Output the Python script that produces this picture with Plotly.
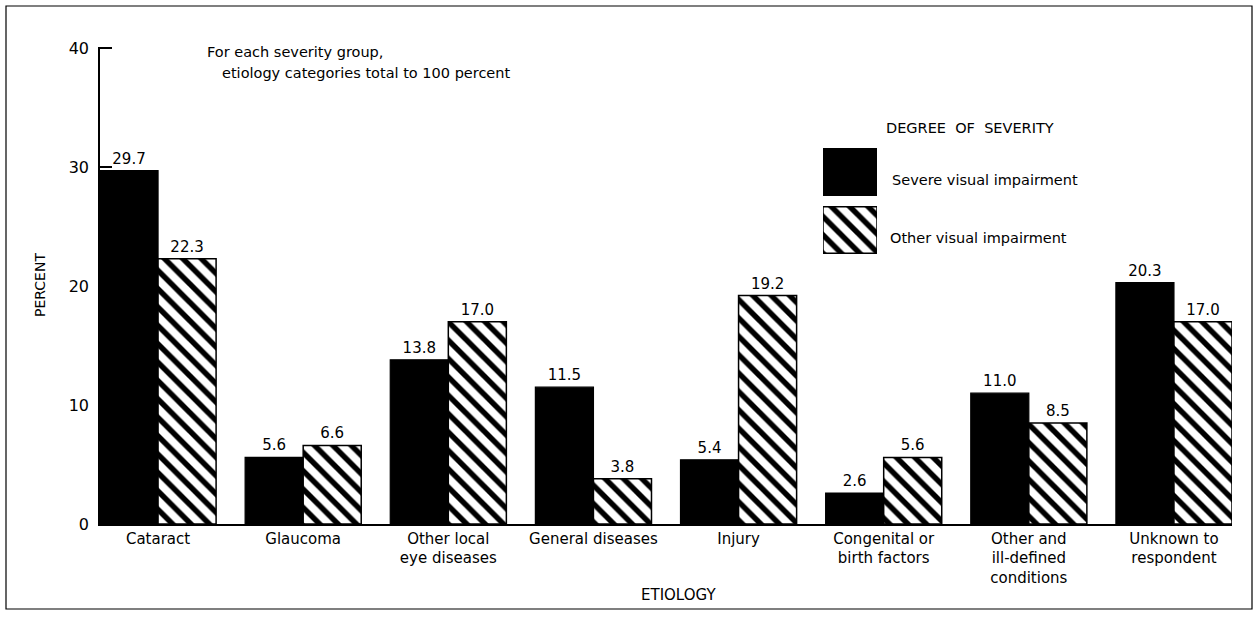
import plotly.graph_objects as go

categories = ["Cataract", "Glaucoma", "Other local<br>eye diseases", "General diseases",
              "Injury", "Congenital or<br>birth factors", "Other and<br>ill-defined<br>conditions",
              "Unknown to<br>respondent"]
severe = [29.7, 5.6, 13.8, 11.5, 5.4, 2.6, 11.0, 20.3]
other = [22.3, 6.6, 17.0, 3.8, 19.2, 5.6, 8.5, 17.0]
series_names = ["Severe visual impairment", "Other visual impairment"]
y_ticks = [0, 10, 20, 30, 40]

FONT = "DejaVu Sans"
W, H = 1260, 618
L, R, T, B = 100, 28, 47, 94
pw, ph = W - L - R, H - T - B

def px(x):
    return (x - L) / pw

def py(y):
    return (H - B - y) / ph

hatch = dict(shape="\\", fgcolor="black", bgcolor="white", fgopacity=1, size=13, solidity=0.42)

xs = list(range(len(categories)))
fig = go.Figure()
fig.add_trace(go.Bar(
    x=xs, y=severe, name=series_names[0],
    marker=dict(color="black", line=dict(color="black", width=1.2)),
    texttemplate="%{y:.1f}", textposition="outside", cliponaxis=False,
    textfont=dict(family=FONT, size=15, color="black"), showlegend=False))
fig.add_trace(go.Bar(
    x=xs, y=other, name=series_names[1],
    marker=dict(color="white", line=dict(color="black", width=1.5), pattern=hatch),
    texttemplate="%{y:.1f}", textposition="outside", cliponaxis=False,
    textfont=dict(family=FONT, size=15, color="black"), showlegend=False))

# legend swatches drawn as bars on an overlay axis
fig.add_trace(go.Bar(
    y=[series_names[0]], x=[1], orientation="h",
    xaxis="x2", yaxis="y2", showlegend=False, hoverinfo="skip",
    marker=dict(color="black", line=dict(color="black", width=1.5))))
fig.add_trace(go.Bar(
    y=[series_names[1]], x=[1], orientation="h",
    xaxis="x2", yaxis="y2", showlegend=False, hoverinfo="skip",
    marker=dict(color="white", line=dict(color="black", width=1.5), pattern=hatch)))

fig.update_layout(
    width=W, height=H, margin=dict(l=L, r=R, t=T, b=B, autoexpand=False),
    paper_bgcolor="white", plot_bgcolor="white",
    barmode="group", bargap=0.2, bargroupgap=0.0,
    font=dict(family=FONT, size=15, color="black"),
    xaxis=dict(range=[-0.4, 7.4], tickvals=xs, ticktext=categories, showgrid=False,
               zeroline=False, showline=True, linecolor="black", linewidth=1.5,
               ticks="", tickfont=dict(family=FONT, size=15), automargin=False),
    yaxis=dict(range=[0, 40.1], tickvals=y_ticks, showgrid=False, zeroline=False,
               showline=True, linecolor="black", linewidth=1.5,
               ticks="inside", ticklen=12, tickcolor="black", tickwidth=1.5,
               ticklabelstandoff=6, tickfont=dict(family=FONT, size=16), automargin=False),
    xaxis2=dict(domain=[px(823), px(877)], range=[0, 1], anchor="y2", visible=False),
    yaxis2=dict(domain=[py(259), py(143)], anchor="x2", visible=False,
                categoryorder="array", categoryarray=[series_names[1], series_names[0]]),
)

annos = [
    dict(x=px(205), y=py(52), text="For each severity group,"),
    dict(x=px(220), y=py(73), text="etiology categories total to 100 percent"),
    dict(x=px(884), y=py(128), text="DEGREE  OF  SEVERITY"),
    dict(x=px(890), y=py(180), text=series_names[0]),
    dict(x=px(888), y=py(238), text=series_names[1]),
]
for a in annos:
    fig.add_annotation(xref="paper", yref="paper", xanchor="left", yanchor="middle",
                       showarrow=False, font=dict(family=FONT, size=14.5, color="black"), **a)

# axis titles
fig.add_annotation(xref="paper", yref="paper", x=px(678), y=py(595), text="ETIOLOGY",
                   showarrow=False, xanchor="center", yanchor="middle",
                   font=dict(family=FONT, size=15, color="black"))
fig.add_annotation(xref="paper", yref="paper", x=px(40), y=py(285), text="PERCENT",
                   showarrow=False, xanchor="center", yanchor="middle", textangle=-90,
                   font=dict(family=FONT, size=14, color="black"))

fig.add_shape(type="rect", xref="paper", yref="paper",
              x0=px(6), x1=px(1252), y0=py(609), y1=py(6),
              line=dict(color="black", width=1.2), fillcolor="rgba(0,0,0,0)", layer="below")

fig.write_html("out.html", config={"displayModeBar": False},
               post_script="document.body.style.margin='0';")
